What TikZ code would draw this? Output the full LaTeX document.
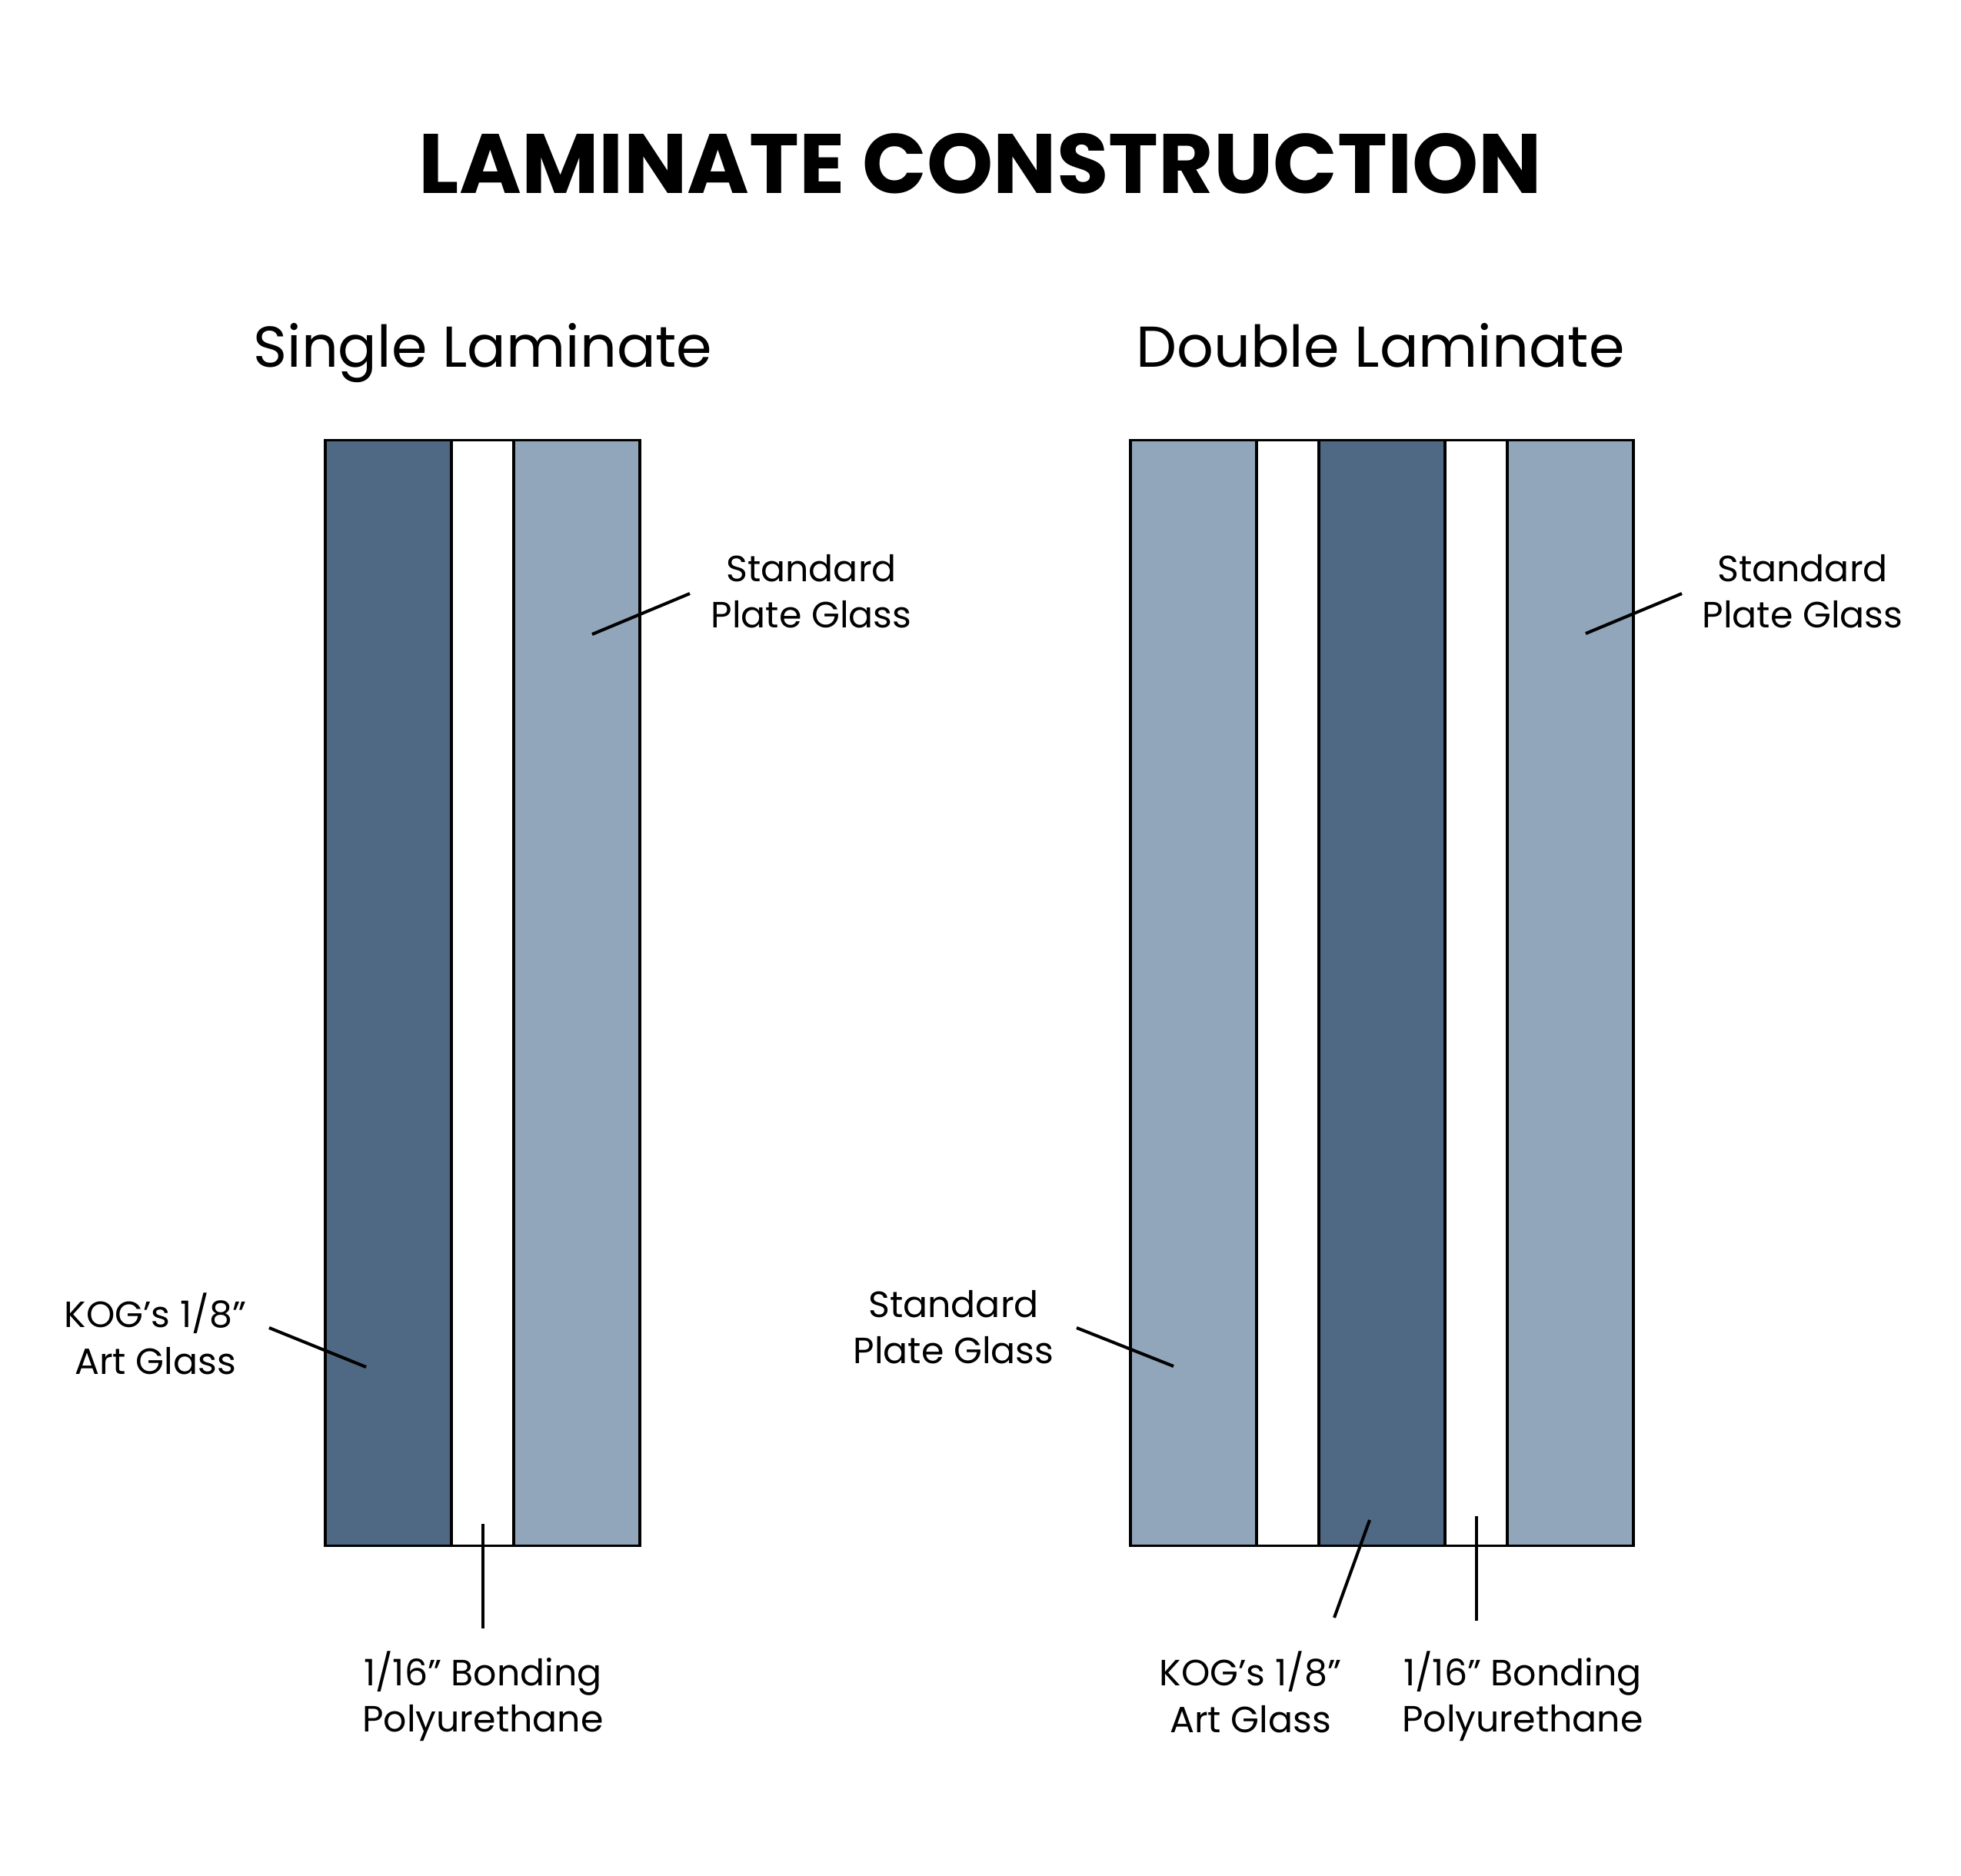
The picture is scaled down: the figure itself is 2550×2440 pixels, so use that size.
\documentclass[tikz,border=0pt]{standalone}
\usepackage{fontspec}
\setmainfont{Poppins}
\usetikzlibrary{positioning}

\definecolor{artglass}{HTML}{4F6883}
\definecolor{plateglass}{HTML}{91A6BB}

\tikzset{
  layer/.style={draw=black, line width=0.95pt, minimum height=14.37cm, inner sep=0pt},
  thick layer/.style={layer, minimum width=1.64cm},
  thin layer/.style={layer, minimum width=0.81cm, fill=white},
  leader/.style={line width=1.15pt},
  lbl/.style={align=center, font=\fontsize{13.5}{17.2}\selectfont},
  head/.style={font=\fontsize{21.3}{26}\selectfont},
  ttl/.style={font=\fontsize{31.2}{36}\selectfont\bfseries}
}

\begin{document}
\begin{tikzpicture}[x=0.01cm, y=-0.01cm]
\useasboundingbox[fill=white] (0,0) rectangle (2550,2440);

\node[ttl, anchor=base] (title) at (1275,252) {LAMINATE CONSTRUCTION};
\node[head, anchor=base] (single) at (628,478) {Single Laminate};
\node[head, anchor=base] (double) at (1795,478) {Double Laminate};

% single laminate
\node[thick layer, fill=artglass] (s1) at (505,1291.5) {};
\node[thin layer] (s2) at (627.5,1291.5) {};
\node[thick layer, fill=plateglass] (s3) at (750,1291.5) {};

% double laminate
\node[thick layer, fill=plateglass] (d1) at (1552,1291.5) {};
\node[thin layer] (d2) at (1674.5,1291.5) {};
\node[thick layer, fill=artglass] (d3) at (1797,1291.5) {};
\node[thin layer] (d4) at (1919.5,1291.5) {};
\node[thick layer, fill=plateglass] (d5) at (2042,1291.5) {};

% labels
\node[lbl] (sStd) at (1055,769) {Standard\\Plate Glass};
\node[lbl] (sKog) at (202,1735) {KOG’s 1/8”\\Art Glass};
\node[lbl] (sPu) at (628,2206) {1/16” Bonding\\Polyurethane};
\node[lbl] (dStdL) at (1240,1726) {Standard\\Plate Glass};
\node[lbl] (dStdR) at (2344,769) {Standard\\Plate Glass};
\node[lbl] (dKog) at (1626,2201) {KOG’s 1/8”\\Art Glass};
\node[lbl] (dPu) at (1980,2206) {1/16” Bonding\\Polyurethane};

% leader ends
\coordinate (sStdIn) at (770,825);   \coordinate (sStdOut) at (897,772);
\coordinate (sKogIn) at (476,1778);  \coordinate (sKogOut) at (350,1727);
\coordinate (sPuIn) at (628,1982);   \coordinate (sPuOut) at (628,2118);
\coordinate (dStdLIn) at (1526,1777); \coordinate (dStdLOut) at (1400,1727);
\coordinate (dStdRIn) at (2062,824); \coordinate (dStdROut) at (2187,772);
\coordinate (dKogIn) at (1781,1977); \coordinate (dKogOut) at (1735,2104);
\coordinate (dPuIn) at (1920,1972);  \coordinate (dPuOut) at (1920,2108);

\draw[leader] (sStdIn) -- (sStdOut);
\draw[leader] (sKogIn) -- (sKogOut);
\draw[leader] (sPuIn) -- (sPuOut);
\draw[leader] (dStdLIn) -- (dStdLOut);
\draw[leader] (dStdRIn) -- (dStdROut);
\draw[leader] (dKogIn) -- (dKogOut);
\draw[leader] (dPuIn) -- (dPuOut);
\end{tikzpicture}
\end{document}
